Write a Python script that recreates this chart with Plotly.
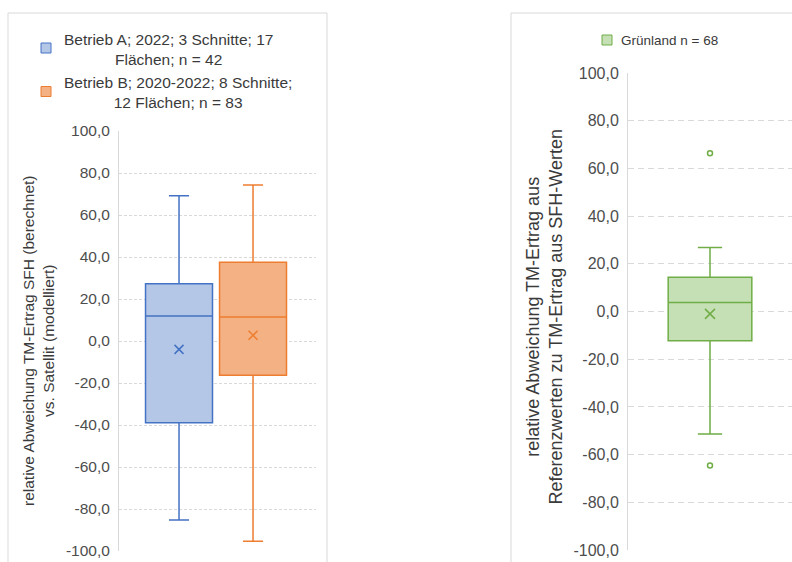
import plotly.graph_objects as go

# ---------------- data ----------------
left_categories = ["Betrieb A", "Betrieb B"]
left_legend = ["Betrieb A; 2022; 3 Schnitte; 17<br>Flächen; n = 42",
               "Betrieb B; 2020-2022; 8 Schnitte;<br>12 Flächen; n = 83"]
left_q1 = [-38.9, -16.3]
left_median = [11.9, 11.4]
left_q3 = [27.3, 37.5]
left_lower = [-85.2, -95.4]
left_upper = [69.2, 74.3]
left_mean = [-4.0, 2.7]

right_category = ["Grünland"]
right_legend = "Grünland n = 68"
right_q1 = [-12.3]
right_median = [3.8]
right_q3 = [14.4]
right_lower = [-51.4]
right_upper = [26.8]
right_mean = [-1.0]
right_outliers = [66.4, -64.6]

tick_vals = [100, 80, 60, 40, 20, 0, -20, -40, -60, -80, -100]
tick_text = ["100,0", "80,0", "60,0", "40,0", "20,0", "0,0", "-20,0", "-40,0",
             "-60,0", "-80,0", "-100,0"]

left_title = "relative Abweichung TM-Ertrag SFH (berechnet)<br>vs. Satellit (modelliert)"
right_title = "relative Abweichung TM-Ertrag aus<br>Referenzwerten zu TM-Ertrag aus SFH-Werten"

# ---------------- styles ----------------
W, H = 792, 562
left_fill = ["#b4c7e7", "#f4b183"]
left_line = ["#4472c4", "#ed7d31"]
green_fill = "#c5e0b4"
green_line = "#70ad47"
FONT = "Liberation Sans, Arial, sans-serif"
TICK_C = "#4d4d4d"
TEXT_C = "#3a3a3a"
GRID_C = "#d9d9d9"


def px(x):
    return x / W


def py(y):
    return 1 - y / H


fig = go.Figure()

for i, cat in enumerate(left_categories):
    fig.add_trace(go.Box(
        x=[cat], q1=[left_q1[i]], median=[left_median[i]], q3=[left_q3[i]],
        lowerfence=[left_lower[i]], upperfence=[left_upper[i]],
        fillcolor=left_fill[i], line=dict(color=left_line[i], width=1.5),
        width=0.905, whiskerwidth=0.3, boxpoints=False, showlegend=False,
        xaxis="x", yaxis="y"))
    fig.add_trace(go.Scatter(
        x=[cat], y=[left_mean[i]], mode="markers",
        marker=dict(symbol="x-thin", size=9, color=left_line[i],
                    line=dict(width=1.5, color=left_line[i])),
        showlegend=False, xaxis="x", yaxis="y"))

fig.add_trace(go.Box(
    x=right_category, q1=right_q1, median=right_median, q3=right_q3,
    lowerfence=right_lower, upperfence=right_upper,
    fillcolor=green_fill, line=dict(color=green_line, width=1.5),
    width=0.51, whiskerwidth=0.29, boxpoints=False, showlegend=False,
    xaxis="x2", yaxis="y2"))
fig.add_trace(go.Scatter(
    x=right_category, y=right_mean, mode="markers",
    marker=dict(symbol="x-thin", size=10, color=green_line,
                line=dict(width=1.5, color=green_line)),
    showlegend=False, xaxis="x2", yaxis="y2"))
fig.add_trace(go.Scatter(
    x=right_category * len(right_outliers), y=right_outliers, mode="markers",
    marker=dict(symbol="circle-open", size=5, color=green_line,
                line=dict(width=1.5, color=green_line)),
    showlegend=False, xaxis="x2", yaxis="y2"))

yaxis_common = dict(range=[-100, 100], tickvals=tick_vals, ticktext=tick_text,
                    showgrid=True, gridcolor=GRID_C, gridwidth=1, automargin=False,
                    zeroline=False, showline=True, linecolor=GRID_C, linewidth=1,
                    ticks="", ticklabelstandoff=5, fixedrange=True)
xaxis_common = dict(showticklabels=False, showgrid=False, zeroline=False,
                    showline=False, automargin=False, fixedrange=True)

fig.update_layout(
    width=W, height=H, margin=dict(l=0, r=0, t=0, b=0, autoexpand=False),
    paper_bgcolor="white", plot_bgcolor="white",
    font=dict(family=FONT, color=TEXT_C),
    xaxis=dict(domain=[px(119), px(316)], range=[-0.811, 1.851], **xaxis_common),
    yaxis=dict(domain=[py(551), py(131)], griddash="3px,2px",
               tickfont=dict(size=15.5, color=TICK_C, family=FONT), **yaxis_common),
    xaxis2=dict(domain=[px(628), 1.0], range=[-0.5, 0.5], anchor="y2", **xaxis_common),
    yaxis2=dict(domain=[py(550), py(73)], anchor="x2", griddash="6px,4px",
                tickfont=dict(size=16, color=TICK_C, family=FONT), **yaxis_common),
)

shapes = [
    dict(type="rect", xref="paper", yref="paper", x0=px(8), x1=px(327),
         y0=-0.1, y1=py(13), line=dict(color=GRID_C, width=1), layer="below"),
    dict(type="rect", xref="paper", yref="paper", x0=px(511), x1=px(810),
         y0=-0.1, y1=py(13), line=dict(color=GRID_C, width=1), layer="below"),
    # legend swatches
    dict(type="rect", xref="paper", yref="paper", x0=px(41), x1=px(51),
         y0=py(53), y1=py(43), fillcolor=left_fill[0], line=dict(color=left_line[0], width=1)),
    dict(type="rect", xref="paper", yref="paper", x0=px(41), x1=px(51),
         y0=py(96.5), y1=py(86.5), fillcolor=left_fill[1], line=dict(color=left_line[1], width=1)),
    dict(type="rect", xref="paper", yref="paper", x0=px(602), x1=px(612),
         y0=py(45), y1=py(35), fillcolor=green_fill, line=dict(color=green_line, width=1)),
]
fig.update_layout(shapes=shapes)

annotations = [
    dict(text=left_legend[0], x=px(168), y=py(49), xref="paper", yref="paper",
         xanchor="center", yanchor="middle", align="center", showarrow=False,
         font=dict(size=15.5, color=TEXT_C, family=FONT)),
    dict(text=left_legend[1], x=px(178), y=py(92.5), xref="paper", yref="paper",
         xanchor="center", yanchor="middle", align="center", showarrow=False,
         font=dict(size=15.5, color=TEXT_C, family=FONT)),
    dict(text=right_legend, x=px(669), y=py(40.5), xref="paper", yref="paper",
         xanchor="center", yanchor="middle", align="center", showarrow=False,
         font=dict(size=13.5, color=TEXT_C, family=FONT)),
    dict(text=left_title, x=px(38), y=py(341), xref="paper", yref="paper",
         xanchor="center", yanchor="middle", align="center", showarrow=False,
         textangle=-90, font=dict(size=15.5, color=TEXT_C, family=FONT)),
    dict(text=right_title, x=px(543.5), y=py(317), xref="paper", yref="paper",
         xanchor="center", yanchor="middle", align="center", showarrow=False,
         textangle=-90, font=dict(size=18, color=TEXT_C, family=FONT)),
]
fig.update_layout(annotations=annotations)

fig.write_html("out.html")
